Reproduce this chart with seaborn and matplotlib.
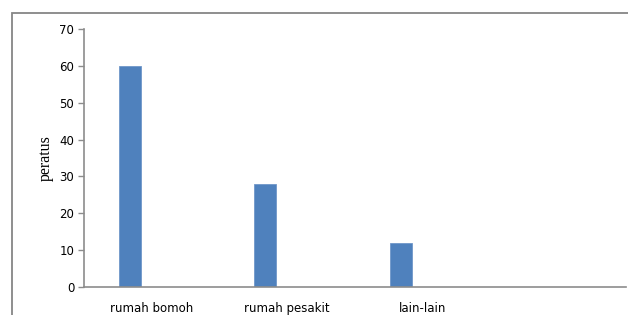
import pandas as pd
import matplotlib.pyplot as plt
import seaborn as sns
from matplotlib.patches import Rectangle

# data
kategori = ['rumah bomoh', 'rumah pesakit', 'lain-lain', '']
siri = ['Siri 1', 'Siri 2', 'Siri 3']
nilai = [60, 28, 12]

df = pd.DataFrame({'kategori': kategori[:3], 'peratus': nilai, 'siri': siri[0]})

sns.set_style('white')
plt.rcParams['font.family'] = ['DejaVu Sans']

fig = plt.figure(figsize=(6.28, 3.15), dpi=100)
ax = fig.add_axes([84 / 628, 1 - 287 / 315, 542 / 628, 258 / 315])

sns.barplot(data=df, x='kategori', y='peratus', hue='siri',
            order=kategori, hue_order=siri, dodge=True, width=0.487, gap=0,
            palette=['#4F81BD'] * 3, saturation=1, edgecolor='#7097C9',
            linewidth=0.6, legend=False, ax=ax)

ax.set_xlim(-0.5, 3.5)
ax.set_ylim(0, 70)
ax.set_yticks(range(0, 71, 10))
ax.set_xlabel('')
ax.set_ylabel('peratus', family='Liberation Serif', fontsize=11.5,
              labelpad=4, color='black')

for s in ['top', 'right']:
    ax.spines[s].set_visible(False)
for s in ['left', 'bottom']:
    ax.spines[s].set_color('#8c8c8c')
    ax.spines[s].set_linewidth(1.2)

ax.tick_params(axis='y', left=True, length=4, width=1, color='#8c8c8c',
               labelsize=8.5, pad=3, labelcolor='black')
ax.tick_params(axis='x', bottom=False, labelsize=8.5, pad=7,
               labelcolor='black')

# outer chart frame
fig.patches.append(Rectangle((12 / 628, -0.1), 1.2, 1.1 - 13 / 315,
                             transform=fig.transFigure, fill=False,
                             edgecolor='#868686', linewidth=1.3))

fig.savefig('out.png', dpi=100)
